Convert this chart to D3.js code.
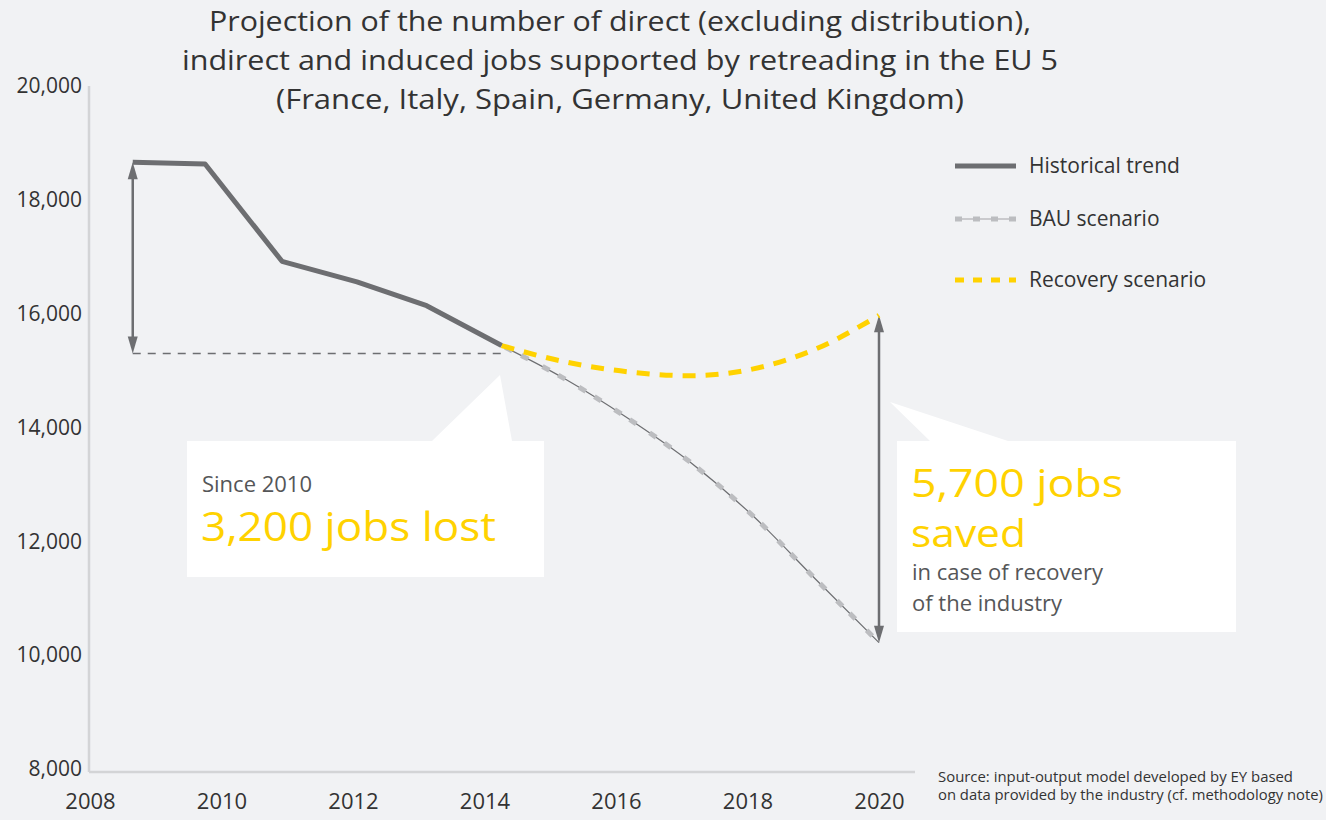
<!DOCTYPE html>
<html>
<head>
<meta charset="utf-8">
<script src="https://cdn.jsdelivr.net/npm/d3@7"></script>
<style>
  body { margin: 0; background: #f1f2f4; }
  svg { display: block; font-family: "Open Sans", sans-serif; }
</style>
</head>
<body>
<svg width="1326" height="820"></svg>
<script>
// data (x = year position on the chart)
var histYears = [2008.65, 2009.75, 2010.92, 2012.06, 2013.12, 2014.26];
var histJobs = [18660, 18630, 16920, 16560, 16140, 15440];
var projYears = [2014.26, 2015.22, 2016.17, 2017.13, 2018.09, 2019.04, 2020];
var bauJobs = [15440, 14855, 14170, 13390, 12440, 11330, 10220];
var recoveryJobs = [15440, 15155, 14980, 14910, 15030, 15380, 15970];
var xTicks = [2008, 2010, 2012, 2014, 2016, 2018, 2020];
var yTicks = [8000, 10000, 12000, 14000, 16000, 18000, 20000];
var titleLines = [
  'Projection of the number of direct (excluding distribution),',
  'indirect and induced jobs supported by retreading in the EU 5',
  '(France, Italy, Spain, Germany, United Kingdom)'
];
var legendItems = ['Historical trend', 'BAU scenario', 'Recovery scenario'];
var lossBase = 15300;   // level of the dashed reference line

var grey = '#6d6e71', light = '#bcbdc0', yellow = '#ffd200', ink = '#333333';

var svg = d3.select('svg');
var x = d3.scaleLinear().domain([2008, 2020]).range([90, 879]);
var y = d3.scaleLinear().domain([8000, 20000]).range([769, 86]);

// title
svg.append('g').selectAll('text')
   .data(titleLines).enter().append('text')
   .attr('x', 620)
   .attr('y', function (d, i) { return 31 + i * 39; })
   .attr('text-anchor', 'middle')
   .attr('font-size', '27px')
   .attr('fill', ink)
   .attr('textLength', function (d, i) { return [822, 876, 688][i]; })
   .attr('lengthAdjust', 'spacingAndGlyphs')
   .text(function (d) { return d; });

// axes
var yAxis = svg.append('g')
   .attr('transform', 'translate(82,0)')
   .call(d3.axisLeft(y).tickValues(yTicks).tickSize(0).tickPadding(0)
     .tickFormat(d3.format(',')));
yAxis.select('.domain').remove();
yAxis.selectAll('text').attr('font-size', '21px').attr('fill', ink)
   .attr('font-family', '"Open Sans", sans-serif');

var xAxis = svg.append('g')
   .attr('transform', 'translate(0,772)')
   .call(d3.axisBottom(x).tickValues(xTicks).tickSize(0).tickPadding(21)
     .tickFormat(d3.format('d')));
xAxis.select('.domain').remove();
xAxis.selectAll('text').attr('font-size', '22px').attr('fill', ink)
   .attr('font-family', '"Open Sans", sans-serif');

svg.append('line')
   .attr('x1', 89).attr('x2', 89).attr('y1', 86).attr('y2', 772)
   .style('stroke', '#d3d4d6').style('stroke-width', 2.5);
svg.append('line')
   .attr('x1', 89).attr('x2', 915).attr('y1', 772).attr('y2', 772)
   .style('stroke', '#d3d4d6').style('stroke-width', 2.5);

// callout boxes
svg.append('path')
   .attr('d', 'M187,441 L432,441 L500,375 L512,441 L544,441 L544,577 L187,577 Z')
   .style('fill', 'white');
svg.append('path')
   .attr('d', 'M897,441 L930,441 L890,402 L1008,441 L1236,441 L1236,632 L897,632 Z')
   .style('fill', 'white');

// dashed reference + arrows
svg.append('line')
   .attr('x1', x(histYears[0])).attr('x2', x(histYears[histYears.length - 1]))
   .attr('y1', y(lossBase)).attr('y2', y(lossBase))
   .style('stroke', grey).style('stroke-width', 1.5)
   .style('stroke-dasharray', '8,7');

function arrow(xv, v1, v2) {
  // vertical double arrow with filled heads at both ends
  var xp = x(xv), ya = y(v1), yb = y(v2);
  svg.append('path')
     .attr('d', 'M' + xp + ',' + (ya + 16) + ' L' + xp + ',' + (yb - 16))
     .style('stroke', grey).style('stroke-width', 2.5).style('fill', 'none');
  svg.append('path')
     .attr('d', 'M' + (xp - 5) + ',' + (ya + 17) + ' L' + xp + ',' + ya + ' L' + (xp + 5) + ',' + (ya + 17) + 'Z')
     .style('fill', grey);
  svg.append('path')
     .attr('d', 'M' + (xp - 5) + ',' + (yb - 17) + ' L' + xp + ',' + yb + ' L' + (xp + 5) + ',' + (yb - 17) + 'Z')
     .style('fill', grey);
}
arrow(histYears[0], histJobs[0], lossBase);
arrow(2020, recoveryJobs[recoveryJobs.length - 1], bauJobs[bauJobs.length - 1]);

// lines
var histLine = d3.line()
   .x(function (d, i) { return x(histYears[i]); })
   .y(function (d) { return y(d); });
var projLine = d3.line()
   .curve(d3.curveMonotoneX)
   .x(function (d, i) { return x(projYears[i]); })
   .y(function (d) { return y(d); });

svg.append('path').datum(bauJobs)
   .attr('d', projLine)
   .style('fill', 'none').style('stroke', grey).style('stroke-width', 1.2);
svg.append('path').datum(bauJobs)
   .attr('d', projLine)
   .style('fill', 'none').style('stroke', light).style('stroke-width', 5)
   .style('stroke-dasharray', '8,10,8,16').style('stroke-dashoffset', -4);
svg.append('path').datum(recoveryJobs)
   .attr('d', projLine)
   .style('fill', 'none').style('stroke', yellow).style('stroke-width', 5)
   .style('stroke-dasharray', '13,10');
svg.append('path').datum(histJobs)
   .attr('d', histLine)
   .style('fill', 'none').style('stroke', grey).style('stroke-width', 5)
   .style('stroke-linejoin', 'round');

// legend
var legend = svg.append('g').attr('transform', 'translate(955,0)');
var legendY = [166, 219, 280];
legend.append('line').attr('x1', 0).attr('x2', 61).attr('y1', legendY[0]).attr('y2', legendY[0])
   .style('stroke', grey).style('stroke-width', 5);
legend.append('line').attr('x1', 0).attr('x2', 61).attr('y1', legendY[1]).attr('y2', legendY[1])
   .style('stroke', light).style('stroke-width', 1.5);
legend.append('line').attr('x1', 0).attr('x2', 61).attr('y1', legendY[1]).attr('y2', legendY[1])
   .style('stroke', light).style('stroke-width', 5).style('stroke-dasharray', '7,11');
legend.append('line').attr('x1', 0).attr('x2', 61).attr('y1', legendY[2]).attr('y2', legendY[2])
   .style('stroke', yellow).style('stroke-width', 5).style('stroke-dasharray', '9,9');
legend.selectAll('text')
   .data(legendItems).enter().append('text')
   .attr('x', 74)
   .attr('y', function (d, i) { return legendY[i] + 7; })
   .attr('font-size', '21px')
   .attr('fill', ink)
   .text(function (d) { return d; });

// callout texts
svg.append('text').attr('x', 202).attr('y', 492)
   .attr('font-size', '22px').attr('fill', '#555658').text('Since 2010');
svg.append('text').attr('x', 201).attr('y', 541)
   .attr('font-size', '41px').attr('fill', yellow)
   .attr('textLength', 295).attr('lengthAdjust', 'spacingAndGlyphs')
   .text('3,200 jobs lost');
svg.append('text').attr('x', 911).attr('y', 497)
   .attr('font-size', '38px').attr('fill', yellow)
   .attr('textLength', 212).attr('lengthAdjust', 'spacingAndGlyphs')
   .text('5,700 jobs');
svg.append('text').attr('x', 911).attr('y', 547)
   .attr('font-size', '38px').attr('fill', yellow)
   .attr('textLength', 115).attr('lengthAdjust', 'spacingAndGlyphs')
   .text('saved');
svg.append('text').attr('x', 912).attr('y', 580)
   .attr('font-size', '22px').attr('fill', '#555658').text('in case of recovery');
svg.append('text').attr('x', 912).attr('y', 611)
   .attr('font-size', '22px').attr('fill', '#555658').text('of the industry');

// source
svg.append('text').attr('x', 938).attr('y', 782)
   .attr('font-size', '14px').attr('fill', ink)
   .attr('textLength', 355).attr('lengthAdjust', 'spacingAndGlyphs')
   .text('Source: input-output model developed by EY based');
svg.append('text').attr('x', 938).attr('y', 800)
   .attr('font-size', '14px').attr('fill', ink)
   .attr('textLength', 385).attr('lengthAdjust', 'spacingAndGlyphs')
   .text('on data provided by the industry (cf. methodology note)');
</script>
</body>
</html>
